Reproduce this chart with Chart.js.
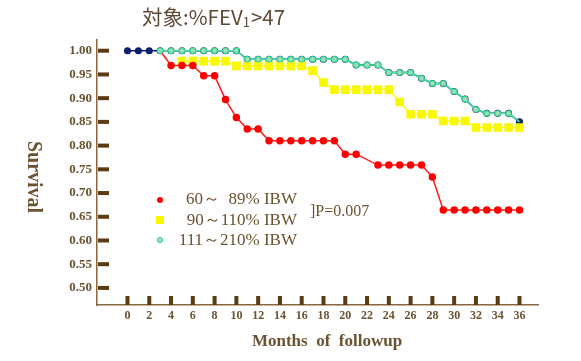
<!DOCTYPE html>
<html>
<head>
<meta charset="utf-8">
<script src="https://cdn.jsdelivr.net/npm/chart.js@4.4.1/dist/chart.umd.min.js"></script>
<style>
  html, body { margin: 0; padding: 0; background: #fff; }
  #wrap { width: 581px; height: 361px; }
</style>
</head>
<body>
<div id="wrap"><canvas id="survChart" width="581" height="361"></canvas></div>
<script>
// Values (months of followup -> survival)
const xTicks = [0, 2, 4, 6, 8, 10, 12, 14, 16, 18, 20, 22, 24, 26, 28, 30, 32, 34, 36];
const yTicks = [0.50, 0.55, 0.60, 0.65, 0.70, 0.75, 0.80, 0.85, 0.90, 0.95, 1.00];

// 60~89% IBW
const redMonths = [3, 4, 5, 6, 7, 8, 9, 10, 11, 12, 13, 14, 15, 16, 17, 18, 19, 20, 21,
    23, 24, 25, 26, 27, 28, 29, 30, 31, 32, 33, 34, 35, 36];
const redSurv = [1.0, 0.969, 0.969, 0.969, 0.947, 0.947, 0.897, 0.859, 0.835, 0.835,
    0.81, 0.81, 0.81, 0.81, 0.81, 0.81, 0.81, 0.782, 0.782,
    0.759, 0.759, 0.759, 0.759, 0.759, 0.734, 0.664, 0.664, 0.664, 0.664, 0.664, 0.664, 0.664, 0.664];

// 90~110% IBW
const yelMonths = [5, 6, 7, 8, 9, 10, 11, 12, 13, 14, 15, 16, 17, 18, 19, 20, 21, 22, 23, 24,
    25, 26, 27, 28, 29, 30, 31, 32, 33, 34, 35, 36];
const yelSurv = [0.978, 0.978, 0.978, 0.978, 0.978, 0.968, 0.968, 0.968, 0.968, 0.968, 0.968, 0.968,
    0.958, 0.933, 0.918, 0.918, 0.918, 0.918, 0.918, 0.918,
    0.892, 0.866, 0.866, 0.866, 0.852, 0.852, 0.852, 0.838, 0.838, 0.838, 0.838, 0.838];

// 111~210% IBW (the navy line runs under it, whole 0-36 range)
const grnMonths = [0, 1, 2, 3, 4, 5, 6, 7, 8, 9, 10, 11, 12, 13, 14, 15, 16, 17, 18,
    19, 20, 21, 22, 23, 24, 25, 26, 27, 28, 29, 30, 31, 32, 33, 34, 35, 36];
const grnSurv = [1.0, 1.0, 1.0, 1.0, 1.0, 1.0, 1.0, 1.0, 1.0, 1.0, 1.0,
    0.982, 0.982, 0.982, 0.982, 0.982, 0.982, 0.982, 0.982, 0.982, 0.982,
    0.97, 0.97, 0.97, 0.954, 0.954, 0.954, 0.942, 0.931, 0.931,
    0.914, 0.898, 0.876, 0.868, 0.868, 0.868, 0.85];

const toPoints = (xs, ys) => xs.map((x, i) => ({ x: x, y: ys[i] }));

const brown = '#6b5230';
const axisBrown = '#86673f';
const tickBrown = '#5a3b12';
const serif = "'Liberation Serif', 'Times New Roman', serif";

// tick bars drawn inside the plot, titles, and the in-plot legend
const decorPlugin = {
    id: 'decor',
    afterDraw(chart) {
        const ctx = chart.ctx;
        const xs = chart.scales.x;
        const ys = chart.scales.y;
        const area = chart.chartArea;
        ctx.save();
        ctx.fillStyle = tickBrown;
        yTicks.forEach(v => {
            const py = ys.getPixelForValue(v);
            ctx.fillRect(area.left + 1, py - 2, 11, 4);
        });
        xTicks.forEach(v => {
            const px = xs.getPixelForValue(v);
            ctx.fillRect(px - 2, area.bottom - 9, 4, 9);
        });

        // title
        ctx.fillStyle = '#5b4a36';
        ctx.textBaseline = 'middle';
        ctx.textAlign = 'left';
        ctx.font = "20.5px 'Noto Sans CJK JP', sans-serif";
        let tx = 142;
        const t1 = '対象:%FEV';
        ctx.fillText(t1, tx, 17);
        tx += ctx.measureText(t1).width;
        ctx.font = "13px 'Noto Sans CJK JP', sans-serif";
        ctx.fillText('1', tx, 22);
        tx += ctx.measureText('1').width + 1;
        ctx.font = "20.5px 'Noto Sans CJK JP', sans-serif";
        ctx.fillText('>47', tx, 17);

        // axis titles
        ctx.fillStyle = brown;
        ctx.font = 'bold 17px ' + serif;
        ctx.textAlign = 'center';
        ctx.fillText('Months  of  followup', 327, 342);
        ctx.save();
        ctx.translate(33, 177);
        ctx.rotate(Math.PI / 2);
        ctx.font = 'bold 20px ' + serif;
        ctx.fillText('Survival', 0, 0);
        ctx.restore();

        // legend
        ctx.fillStyle = '#ff0000';
        ctx.beginPath();
        ctx.arc(160, 200, 3, 0, Math.PI * 2);
        ctx.fill();
        ctx.fillStyle = '#f8f800';
        ctx.fillRect(156, 216, 8, 8);
        ctx.fillStyle = '#a6dcae';
        ctx.strokeStyle = '#3fdf9f';
        ctx.lineWidth = 1.2;
        ctx.beginPath();
        ctx.arc(160, 240, 2.5, 0, Math.PI * 2);
        ctx.fill();
        ctx.stroke();

        ctx.fillStyle = brown;
        ctx.font = '17px ' + serif;
        ctx.textAlign = 'right';
        ctx.fillText('60～  89% IBW', 297, 200);
        ctx.fillText('90～110% IBW', 297, 221);
        ctx.fillText('111～210% IBW', 297, 241);
        ctx.textAlign = 'left';
        ctx.font = '16px ' + serif;
        ctx.fillText(']P=0.007', 310, 212);
        ctx.restore();
    }
};

const ctx = document.getElementById('survChart').getContext('2d');
new Chart(ctx, {
    type: 'scatter',
    data: {
        datasets: [{
            label: '111～210% IBW',
            data: toPoints(grnMonths.slice(3), grnSurv.slice(3)),
            showLine: true,
            borderColor: '#3fe0a0',
            borderWidth: 1.5,
            pointBackgroundColor: '#a6dcae',
            pointBorderColor: '#3fdf9f',
            pointBorderWidth: 1.2,
            pointRadius: c => (c.dataIndex === grnMonths.length - 4 ? 0 : 2.6),
            order: 0
        }, {
            label: '60～89% IBW',
            data: toPoints(redMonths, redSurv),
            showLine: true,
            borderColor: '#ff1a1a',
            borderWidth: 1.5,
            pointBackgroundColor: '#ff0000',
            pointBorderColor: '#ff0000',
            pointRadius: c => (c.dataIndex === 0 ? 0 : 3),
            order: 1
        }, {
            label: '90～110% IBW',
            data: toPoints(yelMonths, yelSurv),
            showLine: true,
            borderColor: '#ffff00',
            borderWidth: 1.5,
            pointStyle: 'rect',
            pointBackgroundColor: '#f8f800',
            pointBorderColor: '#f8f800',
            pointRadius: 5,
            order: 2
        }, {
            label: 'all',
            data: toPoints(grnMonths, grnSurv),
            showLine: true,
            borderColor: '#0b1f6e',
            borderWidth: 1.5,
            pointBackgroundColor: '#0b1f6e',
            pointBorderColor: '#0b1f6e',
            pointRadius: 2.8,
            order: 3
        }]
    },
    options: {
        responsive: false,
        animation: false,
        layout: { padding: { left: 0, right: 43, top: 40, bottom: 0 } },
        scales: {
            x: {
                type: 'linear',
                min: -2.8,
                max: 37.7,
                afterBuildTicks: s => { s.ticks = xTicks.map(v => ({ value: v })); },
                afterFit: s => { s.height = 56; },
                grid: { display: false, drawTicks: false },
                border: { display: true, color: axisBrown, width: 1.5 },
                ticks: {
                    padding: 4,
                    autoSkip: false,
                    maxRotation: 0,
                    color: brown,
                    font: { family: serif, size: 12, weight: 'bold' }
                }
            },
            y: {
                type: 'linear',
                min: 0.464,
                max: 1.0226,
                afterBuildTicks: s => { s.ticks = yTicks.map(v => ({ value: v })); },
                afterFit: s => { s.width = 97; },
                grid: { display: false, drawTicks: false },
                border: { display: true, color: axisBrown, width: 1.5 },
                ticks: {
                    padding: 5,
                    color: brown,
                    font: { family: serif, size: 13, weight: 'bold' },
                    callback: v => v.toFixed(2)
                }
            }
        },
        plugins: {
            legend: { display: false },
            tooltip: { enabled: false }
        }
    },
    plugins: [decorPlugin]
});
</script>
</body>
</html>
